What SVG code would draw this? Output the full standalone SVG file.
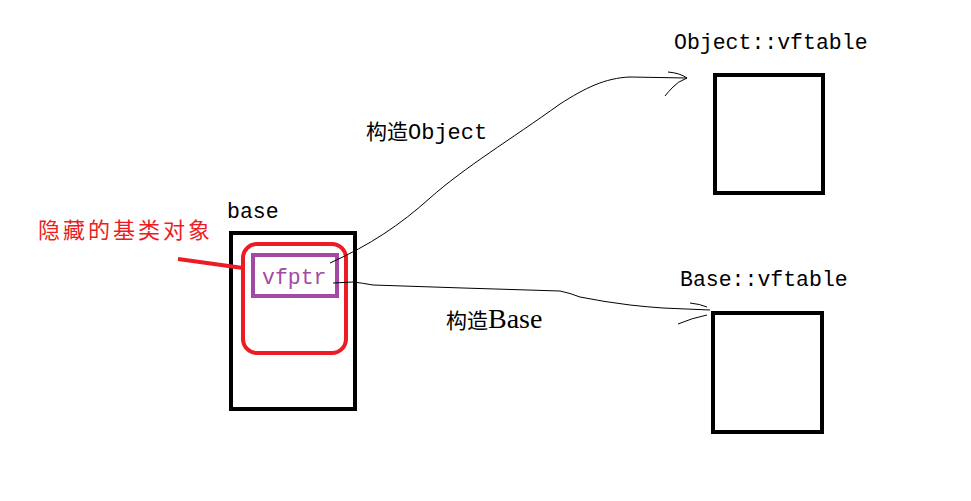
<svg xmlns="http://www.w3.org/2000/svg" width="971" height="501" viewBox="0 0 971 501">
<style>
.box{fill:none;stroke:#000;stroke-width:4}
.mono{font-family:"Liberation Mono","Noto Sans CJK SC",monospace;font-size:21.5px;fill:#000}
.cjk{font-family:"Noto Sans CJK SC",sans-serif;font-size:21px;fill:#000}
.conn{fill:none;stroke:#000;stroke-width:1}
</style>
<rect width="971" height="501" fill="#fff"/>
<g id="base">
<rect class="box" x="231" y="233" width="124" height="176"/>
<text class="mono" x="227" y="218">base</text>
</g>
<g id="hidden-base">
<rect x="243" y="244" width="103" height="109" rx="14" fill="none" stroke="#ED1C24" stroke-width="4"/>
<text x="38" y="238" font-family="Noto Sans CJK SC,sans-serif" font-size="22" fill="#ED1C24" textLength="172">隐藏的基类对象</text>
<line x1="178" y1="259" x2="243" y2="268" stroke="#ED1C24" stroke-width="4"/>
</g>
<g id="vfptr">
<rect x="253" y="255" width="84" height="41" fill="none" stroke="#A349A4" stroke-width="4"/>
<text class="mono" x="262" y="284" style="fill:#A349A4">vfptr</text>
</g>
<g id="object-vftable">
<rect class="box" x="715" y="75" width="108" height="118"/>
<text class="mono" x="674" y="49">Object::vftable</text>
</g>
<g id="base-vftable">
<rect class="box" x="713" y="313" width="109" height="119"/>
<text class="mono" x="680" y="286">Base::vftable</text>
</g>
<g id="connectors">
<path class="conn" d="M330,263 C370,245 400,225 430,198 C465,167 510,140 560,104 C585,88 605,78 630,77 L687,78"/>
<path class="conn" d="M668,72 Q680,73 687,78 Q677,82 673,87 Q668,92 665,96"/>
<path class="conn" d="M333,283 L353,282 Q362,283 373,285 L463,288 L560,291 Q570,293 580,297 Q605,302 630,305 Q648,307 663,308 L710,310"/>
<path class="conn" d="M690,303 Q700,304 707,307"/>
<path class="conn" d="M678,324 Q692,318 707,315"/>
<text x="366" y="139"><tspan class="cjk">构造</tspan><tspan class="mono" style="font-size:22px">Object</tspan></text>
<text x="446" y="328"><tspan class="cjk">构造</tspan><tspan font-family="Liberation Serif,serif" font-size="28" fill="#000">Base</tspan></text>
</g>
</svg>
